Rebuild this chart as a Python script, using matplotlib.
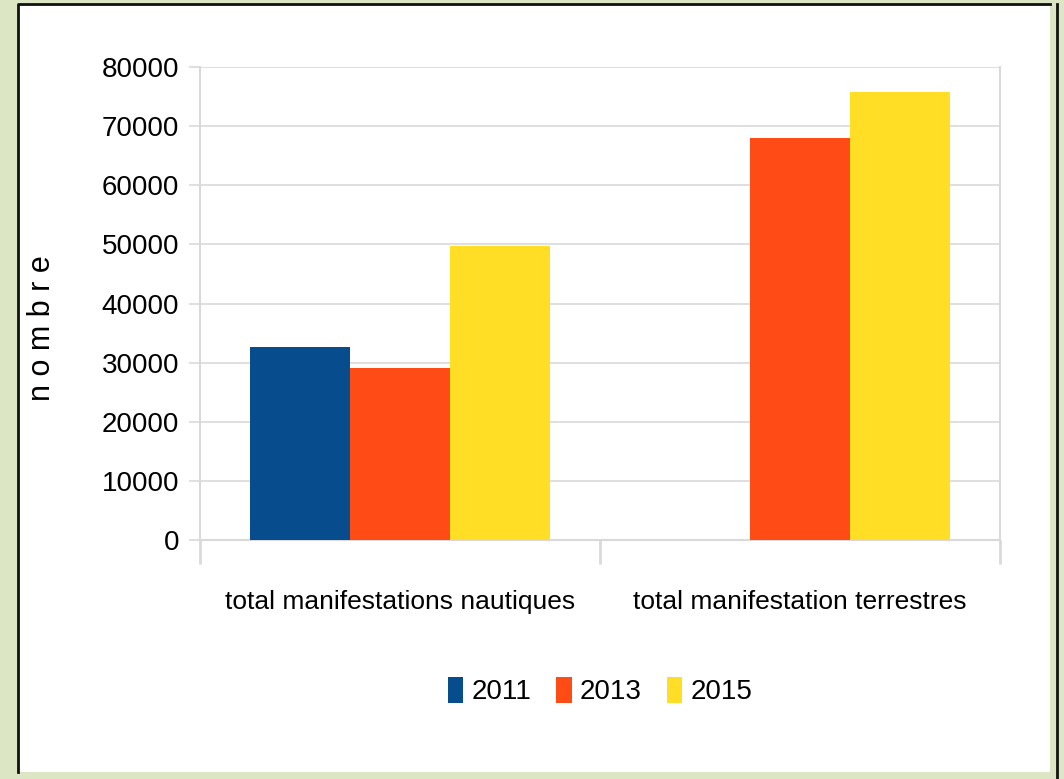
import numpy as np
import matplotlib.pyplot as plt
from matplotlib.patches import Rectangle
from matplotlib.lines import Line2D

plt.rcParams['font.family'] = ['Liberation Sans Narrow', 'Liberation Sans', 'DejaVu Sans']

categories = ['total manifestations nautiques', 'total manifestation terrestres']
years = ['2011', '2013', '2015']
v2011 = [32600, 0]
v2013 = [29100, 68000]
v2015 = [49700, 75800]
colors = ['#074d8e', '#ff4c16', '#ffde25']

fig = plt.figure(figsize=(10.64, 7.79), dpi=100)
fig.patch.set_facecolor('#dde6c4')

# white panel with dark border
fig.patches.append(Rectangle((18 / 1064, 1 - 772 / 779), 1032 / 1064, 768 / 779,
                             transform=fig.transFigure, facecolor='white',
                             edgecolor='none', zorder=-10))
fig.lines.append(Line2D([18 / 1064, 18 / 1064, 1050 / 1064], [1 - 772 / 779, 1 - 4 / 779, 1 - 4 / 779],
                        transform=fig.transFigure, color='#111111', lw=2, zorder=-5))
fig.lines.append(Line2D([1057 / 1064, 1057 / 1064], [0, 1 - 4 / 779],
                        transform=fig.transFigure, color='#111111', lw=2, zorder=-5))

ax = fig.add_axes([200 / 1064, 1 - 540 / 779, 800 / 1064, 473 / 779])
ax.set_zorder(1)
ax.set_facecolor('white')

x = np.arange(len(categories))
w = 0.25
series = [v2011, v2013, v2015]
for i, (vals, col, yr) in enumerate(zip(series, colors, years)):
    ax.bar(x + (i - 1) * w, vals, width=w, color=col, label=yr, zorder=3)

ax.set_xlim(-0.5, 1.5)
ax.set_ylim(0, 80000)
ax.set_yticks(np.arange(0, 80001, 10000))
ax.set_yticklabels([str(v) for v in range(0, 80001, 10000)], fontsize=20)
ax.yaxis.grid(True, color='#d9d9d9', lw=1.2, zorder=0)
ax.tick_params(axis='y', length=8, color='#d9d9d9', width=1.2, pad=7)

ax.set_xticks(x)
ax.set_xticklabels(categories, fontsize=19)
ax.tick_params(axis='x', which='major', length=0, pad=36)
ax.set_xticks([-0.5, 0.5, 1.5], minor=True)
ax.tick_params(axis='x', which='minor', length=17, color='#d9d9d9', width=2)

for s in ['left', 'right', 'bottom']:
    ax.spines[s].set_color('#d9d9d9')
    ax.spines[s].set_linewidth(1.5)
ax.spines['top'].set_visible(False)

ax.set_ylabel('n o m b r e', fontsize=22)
ax.yaxis.set_label_coords(-0.179, 0.448)

handles, labels = ax.get_legend_handles_labels()
fig.legend(handles, labels, loc='center', bbox_to_anchor=(600 / 1064, 1 - 691 / 779),
           ncol=3, frameon=False, fontsize=20, handlelength=0.55, handleheight=1.1,
           handletextpad=0.3, columnspacing=0.9)

fig.savefig('out.png', dpi=100, facecolor=fig.get_facecolor())
